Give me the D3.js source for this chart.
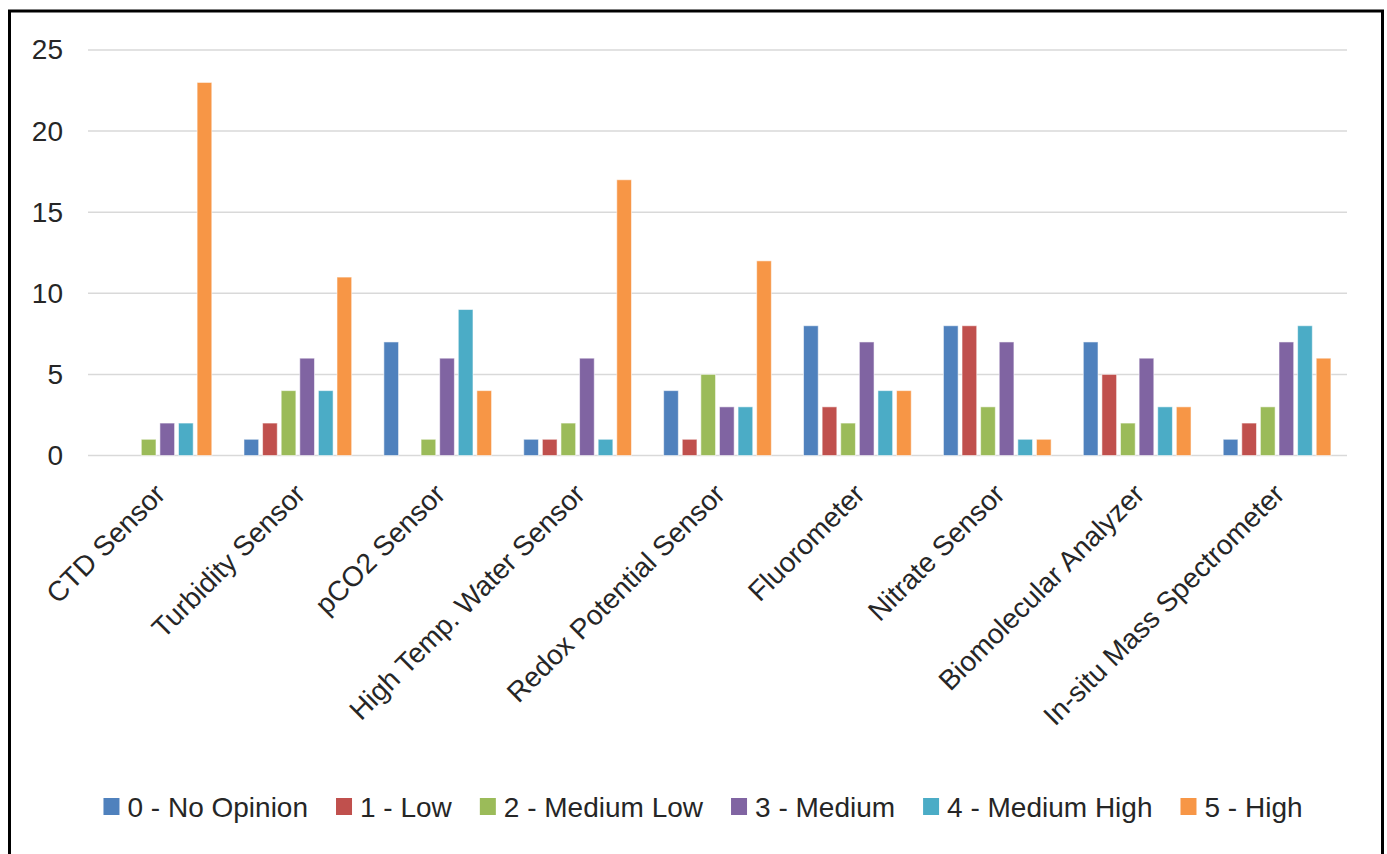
<!DOCTYPE html>
<html>
<head>
<meta charset="utf-8">
<script src="https://cdn.jsdelivr.net/npm/d3@7"></script>
<style>
  html, body { margin: 0; padding: 0; background: #fff; }
  svg { display: block; }
  text { font-family: "Liberation Sans", Arial, sans-serif; fill: #262626; }
</style>
</head>
<body>
<svg id="chart" width="1387" height="854"></svg>
<script>
// Instrument categories on the x axis
const categories = [
  "CTD Sensor", "Turbidity Sensor", "pCO2 Sensor", "High Temp. Water Sensor",
  "Redox Potential Sensor", "Fluorometer", "Nitrate Sensor",
  "Biomolecular Analyzer", "In-situ Mass Spectrometer"
];

// Rating levels (legend series)
const seriesNames = [
  "0 - No Opinion", "1 - Low", "2 - Medium Low",
  "3 - Medium", "4 - Medium High", "5 - High"
];

// Response counts per rating level, one value per category
const noOpinion  = [0, 1, 7, 1, 4, 8, 8, 7, 1];
const low        = [0, 2, 0, 1, 1, 3, 8, 5, 2];
const mediumLow  = [1, 4, 1, 2, 5, 2, 3, 2, 3];
const medium     = [2, 6, 6, 6, 3, 7, 7, 6, 7];
const mediumHigh = [2, 4, 9, 1, 3, 4, 1, 3, 8];
const high       = [23, 11, 4, 17, 12, 4, 1, 3, 6];

const yTicks = [0, 5, 10, 15, 20, 25];

const seriesValues = [noOpinion, low, mediumLow, medium, mediumHigh, high];
const colors = ["#4F81BD", "#C0504D", "#9BBB59", "#8064A2", "#4BACC6", "#F79646"];

const svg = d3.select("#chart");

// Outer frame
svg.append("rect")
  .attr("x", 9.5).attr("y", 11)
  .attr("width", 1373).attr("height", 870)
  .attr("fill", "none").attr("stroke", "#000").attr("stroke-width", 3);

const plot = { left: 88, right: 1347, top: 50, bottom: 455.5 };

const y = d3.scaleLinear().domain([0, 25]).range([plot.bottom, plot.top]);

const x0 = d3.scaleBand()
  .domain(categories)
  .range([plot.left, plot.right])
  .paddingInner(0.23)
  .paddingOuter(0.115);

const x1 = d3.scaleBand()
  .domain(seriesNames)
  .range([0, x0.bandwidth()])
  .paddingInner(0.21);

const color = d3.scaleOrdinal().domain(seriesNames).range(colors);

// Horizontal gridlines
svg.append("g")
  .selectAll("line")
  .data(yTicks)
  .join("line")
  .attr("x1", plot.left).attr("x2", plot.right)
  .attr("y1", d => y(d)).attr("y2", d => y(d))
  .attr("stroke", "#d9d9d9").attr("stroke-width", 1.5);

// Y axis labels
const yAxis = d3.axisLeft(y).tickValues(yTicks).tickSize(0).tickPadding(0);
svg.append("g")
  .attr("transform", `translate(63,0)`)
  .call(yAxis)
  .call(g => g.select(".domain").remove())
  .call(g => g.selectAll("text")
    .attr("font-size", 28)
    .attr("font-family", "Liberation Sans, Arial, sans-serif")
    .attr("fill", "#262626"));

// Bars
const rows = categories.map((c, i) => ({
  category: c,
  values: seriesNames.map((s, j) => ({ series: s, value: seriesValues[j][i] }))
}));

svg.append("g")
  .selectAll("g")
  .data(rows)
  .join("g")
  .attr("transform", d => `translate(${x0(d.category)},0)`)
  .selectAll("rect")
  .data(d => d.values.filter(v => v.value > 0))
  .join("rect")
  .attr("x", d => x1(d.series))
  .attr("width", x1.bandwidth())
  .attr("y", d => y(d.value))
  .attr("height", d => y(0) - y(d.value))
  .attr("fill", d => color(d.series))
  .attr("stroke", "rgba(255,255,255,0.55)")
  .attr("stroke-width", 1);

// Category labels, rotated
svg.append("g")
  .selectAll("text")
  .data(categories)
  .join("text")
  .attr("transform", d => `translate(${x0(d) + x0.bandwidth() / 2 + 9},${496}) rotate(-45)`)
  .attr("text-anchor", "end")
  .attr("font-size", 28)
  .text(d => d);

// Legend
const legend = svg.append("g");
const items = legend.selectAll("g")
  .data(seriesNames)
  .join("g");
items.append("rect")
  .attr("width", 16).attr("height", 17)
  .attr("y", -9)
  .attr("fill", d => color(d));
items.append("text")
  .attr("x", 24)
  .attr("dy", "0.36em")
  .attr("font-size", 28)
  .text(d => d);

let cursor = 0;
const positions = [];
items.each(function () {
  const w = this.querySelector("text").getComputedTextLength();
  positions.push(cursor);
  cursor += 24 + w + 28;
});
const total = cursor - 28;
const startX = 703 - total / 2;
items.attr("transform", (d, i) => `translate(${startX + positions[i]},807)`);
</script>
</body>
</html>
